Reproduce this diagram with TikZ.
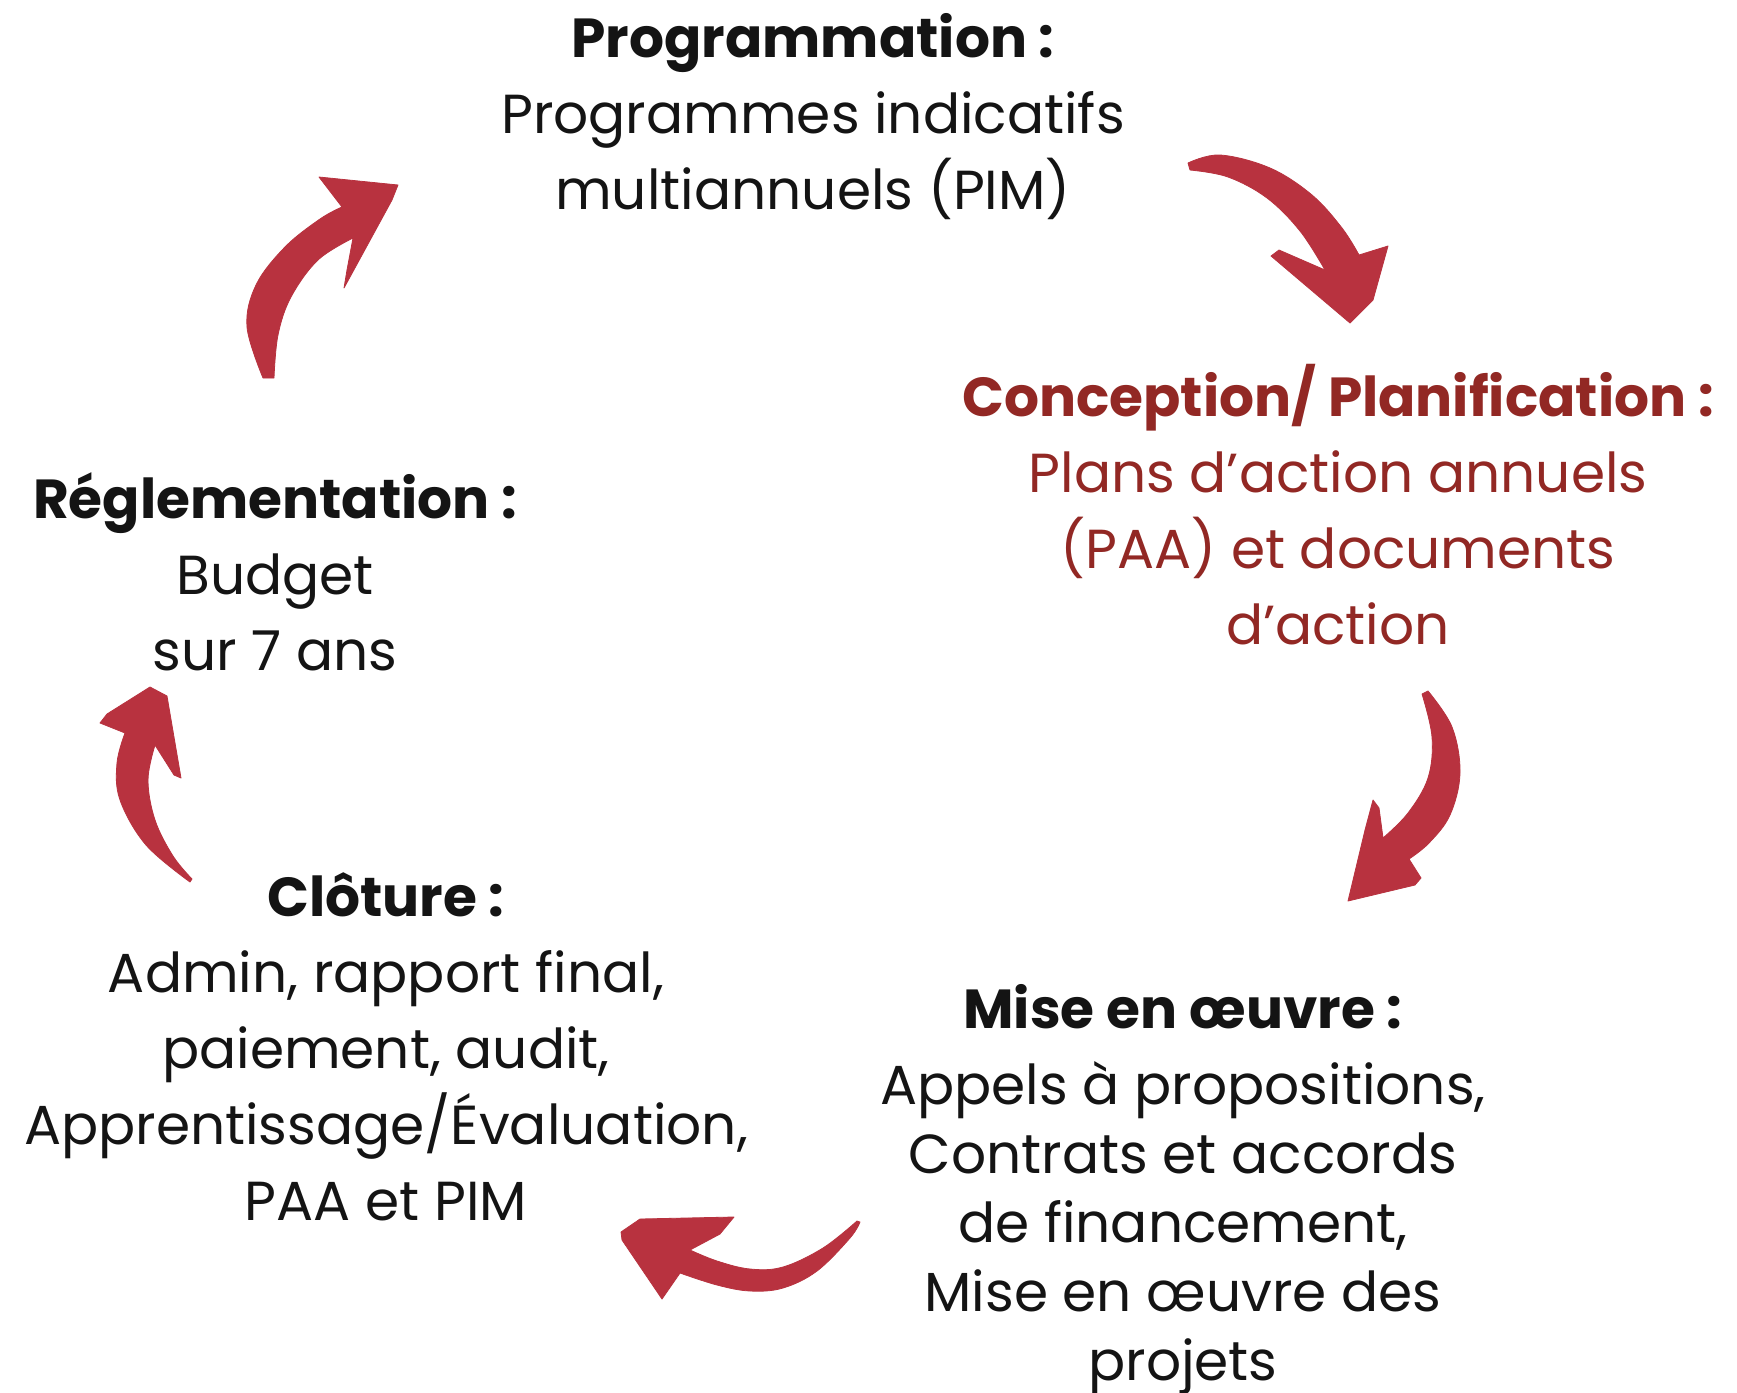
\documentclass[tikz,border=0pt]{standalone}
\usepackage{fontspec}
\setmainfont{Poppins}
\definecolor{arrowred}{RGB}{184,50,63}
\definecolor{darkred}{RGB}{146,40,36}
\definecolor{ink}{RGB}{20,20,20}
\tikzset{
  stage/.style={align=center, inner sep=0pt, text=ink, font=\fontsize{55}{76}\selectfont},
  arrowshape/.style={fill=arrowred, draw=arrowred, line width=0.8pt, line join=round}
}
\newcommand{\ttl}[1]{{\bfseries #1}}
\begin{document}
\begin{tikzpicture}[x=1pt,y=-1pt]
\useasboundingbox[fill=white] (0,0) rectangle (1737,1392);

\node[stage] (prog) at (813,117) {\ttl{Programmation :}\\Programmes indicatifs\\multiannuels (PIM)};
\node[stage, text=darkred] (conc) at (1338,505) {\ttl{Conception/ Planification :}\\Plans d’action annuels\\(PAA) et documents\\d’action};
\node[stage] (regl) at (275,572) {\ttl{Réglementation :}\\Budget\\sur 7 ans};
\node[stage] (clot) at (386,1047) {\ttl{Clôture :}\\Admin, rapport final,\\paiement, audit,\\Apprentissage/Évaluation,\\PAA et PIM};
\node[stage, font=\fontsize{55}{69}\selectfont] (mise) at (1183,1190) {\ttl{Mise en œuvre :}\\[7pt]Appels à propositions,\\Contrats et accords\\de financement,\\Mise en œuvre des\\projets};

% arrow: Programmation -> Conception
\fill[arrowshape] plot[smooth, tension=0.6] coordinates {(1188,163) (1220,155) (1270,168) (1312,195) (1342,228) (1359,255)}
  -- (1388,246) -- (1373,300) -- (1350,323) -- (1271,256) -- (1279,250)
  -- plot[smooth, tension=0.6] coordinates {(1325,270) (1300,231) (1267,198) (1228,177) (1190,170)} -- cycle;

% arrow: Conception -> Mise en oeuvre
\fill[arrowshape] plot[smooth, tension=0.6] coordinates {(1428,691) (1452,727) (1460,773) (1450,815) (1429,843) (1409,859)}
  -- (1421,878) -- (1415,885) -- (1348,901) -- (1365,830) -- (1373,800) -- (1379,808)
  -- plot[smooth, tension=0.6] coordinates {(1383,838) (1408,813) (1428,778) (1432,737) (1422,694)} -- cycle;

% arrow: Mise en oeuvre -> Cloture
\fill[arrowshape] plot[smooth, tension=0.6] coordinates {(860,1222) (850,1238) (817,1271) (783,1288) (750,1291) (717,1285) (680,1273)}
  -- (662,1299) -- (622,1240) -- (621,1232) -- (640,1219) -- (734,1217) -- (720,1234)
  -- plot[smooth, tension=0.6] coordinates {(690,1250) (717,1261) (750,1269) (783,1267) (823,1248) (857,1221)} -- cycle;

% arrow: Cloture -> Reglementation
\fill[arrowshape] plot[smooth, tension=0.6] coordinates {(190,882) (146,845) (120,800) (117,763) (125,733)}
  -- (100,723) -- (107,714) -- (150,687) -- (167,696) -- (181,778) -- (174,775)
  -- plot[smooth, tension=0.6] coordinates {(155,745) (148,780) (155,820) (173,856) (192,879)} -- cycle;

% arrow: Reglementation -> Programmation
\fill[arrowshape] plot[smooth, tension=0.6] coordinates {(263,378) (247,327) (256,285) (285,247) (320,219) (342,207)}
  -- (319,177) -- (398,185) -- (392,200) -- (344,288) -- (347,270)
  -- plot[smooth, tension=0.6] coordinates {(353,238) (318,260) (291,297) (278,335) (274,378)} -- cycle;
\end{tikzpicture}
\end{document}
